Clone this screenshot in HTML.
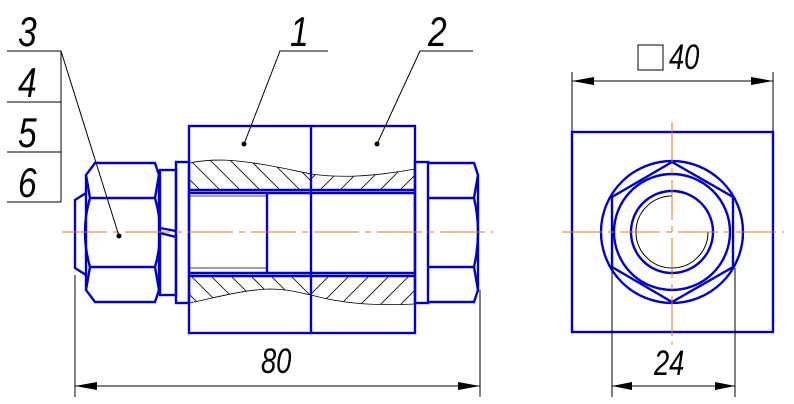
<!DOCTYPE html>
<html><head><meta charset="utf-8"><style>
html,body{margin:0;padding:0;background:#fff;}
svg{display:block;}
text{font-family:"Liberation Sans",sans-serif;font-style:italic;fill:#000;}
</style></head><body>
<svg width="794" height="404" viewBox="0 0 794 404" xmlns="http://www.w3.org/2000/svg">
<defs>
<clipPath id="hl"><path d="M189,163 C215,158 235,160 260,164 C285,168 300,172 311,174 L311,190 L189,190 Z"/></clipPath>
<clipPath id="hr"><path d="M311,174 C340,178 370,177 415,169 L415,190 L311,190 Z"/></clipPath>
<clipPath id="hl2"><path d="M189,303 C215,298 240,290 270,289 C290,289 300,293 311,295 L311,276 L189,276 Z"/></clipPath>
<clipPath id="hr2"><path d="M311,295 C340,303 370,306 415,304 L415,276 L311,276 Z"/></clipPath>
</defs>
<g stroke="#000" stroke-width="0.8" fill="none">
<g clip-path="url(#hl)"><path d="M180,150 l50,50 M200,150 l50,50 M220,150 l50,50 M240,150 l50,50 M260,150 l50,50 M280,150 l50,50 M160,150 l50,50"/></g>
<g clip-path="url(#hr)"><path d="M340,150 l-50,50 M360,150 l-50,50 M380,150 l-50,50 M400,150 l-50,50 M420,150 l-50,50 M440,150 l-50,50"/></g>
<g clip-path="url(#hl2)"><path d="M180,265 l50,50 M200,265 l50,50 M220,265 l50,50 M240,265 l50,50 M260,265 l50,50 M280,265 l50,50 M160,265 l50,50"/></g>
<g clip-path="url(#hr2)"><path d="M340,265 l-50,50 M360,265 l-50,50 M380,265 l-50,50 M400,265 l-50,50 M420,265 l-50,50 M440,265 l-50,50"/></g>
<path d="M189,163 C215,158 235,160 260,164 C285,168 300,172 311,174 C340,178 370,177 415,169"/>
<path d="M189,303 C215,298 240,290 270,289 C290,289 300,293 311,295 C340,303 370,306 415,304"/>
<path d="M189,196 H267 M189,268 H267"/>
</g>
<g stroke="#0000cc" stroke-width="2.4" fill="none">
<rect x="189" y="126" width="226" height="207"/>
<line x1="311" y1="126" x2="311" y2="333"/>
<path d="M189,190 H415 M189,193 H415 M189,273 H415 M189,276 H415"/>
<line x1="267" y1="193" x2="267" y2="273"/>
<rect x="176" y="162" width="13" height="141"/>
<rect x="160" y="170" width="16" height="125"/>
<path d="M160,228 L176,231 M160,233 L176,237"/>
<path d="M95,163 H155 L159,175 V290 L155,302 H95 L86,290 V175 Z"/>
<path d="M86,175 L90,198 H155 L159,175 M86,290 L90,267 H155 L159,290 M90,198 Q80,232 90,267 M155,198 Q165,232 155,267"/>
<path d="M86,193 L75,200 V268 L86,275"/>
<rect x="415" y="162" width="13" height="141"/>
<path d="M428,163 H474 L478,175 V290 L474,302 H428"/>
<path d="M428,198 H474 L478,175 M428,267 H474 L478,290 M474,198 Q482,232 474,267"/>
<rect x="572" y="132" width="201" height="200"/>
<circle cx="672" cy="232" r="71"/>
<polygon points="672,162 733,197 733,267 672,302 612,267 612,197"/>
<circle cx="672" cy="232" r="58"/>
<circle cx="672" cy="232" r="41"/>
</g>
<path d="M672,196 A36,36 0 1,0 708,232" stroke="#000" stroke-width="1" fill="none"/>
<g stroke="#e07a10" stroke-width="1" fill="none">
<line x1="62" y1="232" x2="493" y2="232" stroke-dasharray="45,6,6,6"/>
<line x1="562" y1="232" x2="784" y2="232" stroke-dasharray="40,6,6,6"/>
<line x1="672" y1="122" x2="672" y2="345" stroke-dasharray="40,6,6,6"/>
</g>
<g stroke="#000" stroke-width="1" fill="none">
<path d="M7,51 H61 M7,102 H61 M7,152 H61 M7,202 H61 M61,51 V202"/>
<line x1="61" y1="51" x2="119" y2="236"/>
<path d="M328,51 H280 L244,144"/>
<path d="M473,51 H420 L377,144"/>
<path d="M75,275 V397 M480,290 V397 M75,386 H480"/>
<path d="M612,268 V397 M735,268 V397 M612,386 H735"/>
<path d="M572,72 V132 M773,72 V132 M572,81 H773"/>
<rect x="638" y="45" width="25" height="25"/>
</g>
<g fill="#000">
<circle cx="119" cy="236" r="2.5"/><circle cx="244" cy="144" r="2.5"/><circle cx="377" cy="144" r="2.5"/>
<polygon points="75,386 97,382 97,390"/><polygon points="480,386 458,382 458,390"/>
<polygon points="612,386 632,382 632,390"/><polygon points="735,386 715,382 715,390"/>
<polygon points="572,81 594,77 594,85"/><polygon points="773,81 751,77 751,85"/>
</g>
<g font-size="42">
<text transform="translate(18,46) scale(0.8,1)">3</text>
<text transform="translate(18,97) scale(0.8,1)">4</text>
<text transform="translate(18,147) scale(0.8,1)">5</text>
<text transform="translate(18,197) scale(0.8,1)">6</text>
<text transform="translate(290,46) scale(0.8,1)">1</text>
<text transform="translate(428,46) scale(0.8,1)">2</text>
</g>
<g font-size="35">
<text transform="translate(261,373) scale(0.78,1)">80</text>
<text transform="translate(654,375) scale(0.78,1)">24</text>
<text transform="translate(669,69) scale(0.78,1)">40</text>
</g>
</svg>
</body></html>
